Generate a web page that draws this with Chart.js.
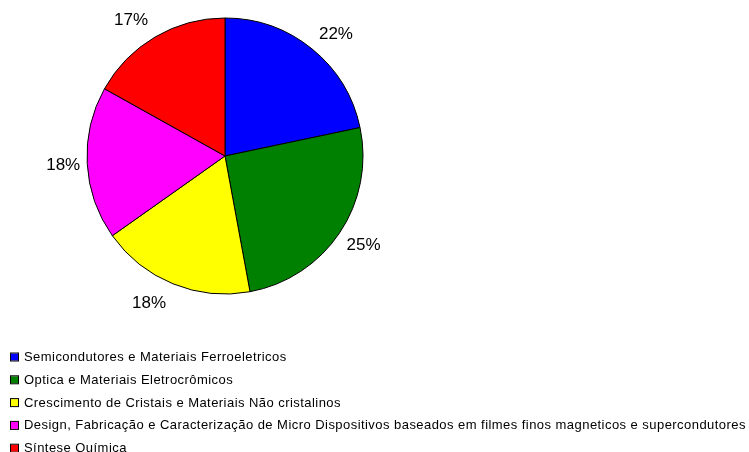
<!DOCTYPE html>
<html>
<head>
<meta charset="utf-8">
<script src="https://cdn.jsdelivr.net/npm/chart.js@4"></script>
<style>
  html, body { margin: 0; padding: 0; background: #fff; }
  #wrap { width: 749px; height: 452px; position: relative; }
</style>
</head>
<body>
<div id="wrap"><canvas id="chart" width="749" height="452"></canvas></div>
<script>
// Data
const categories = [
  'Semicondutores e Materiais Ferroeletricos',
  'Optica e Materiais Eletrocrômicos',
  'Crescimento de Cristais e Materiais Não cristalinos',
  'Design, Fabricação e Caracterização de Micro Dispositivos baseados em filmes finos magneticos e supercondutores',
  'Síntese Química'
];
const shares = [21.7, 25.4, 18.1, 17.9, 16.9];
const pctLabels = ['22%', '25%', '18%', '18%', '17%'];
const colors = ['#0000ff', '#008000', '#ffff00', '#ff00ff', '#ff0000'];

// Percent labels outside each slice, placed off the arc edge like Excel does
const outsideLabels = {
  id: 'outsideLabels',
  afterDatasetsDraw(chart) {
    const ctx = chart.ctx;
    const meta = chart.getDatasetMeta(0);
    ctx.save();
    ctx.font = '17px "Liberation Sans", Arial, sans-serif';
    ctx.fillStyle = '#000';
    ctx.textAlign = 'center';
    ctx.textBaseline = 'middle';
    meta.data.forEach((arc, i) => {
      const mid = (arc.startAngle + arc.endAngle) / 2;
      const ux = Math.cos(mid);
      const uy = Math.sin(mid);
      const ex = arc.x + ux * arc.outerRadius;
      const ey = arc.y + uy * arc.outerRadius;
      ctx.fillText(pctLabels[i], ex + Math.sign(ux) * 24, ey + uy * 20 + 1);
    });
    ctx.restore();
  }
};

// Legend drawn as a column at the bottom left
const columnLegend = {
  id: 'columnLegend',
  afterDraw(chart) {
    const ctx = chart.ctx;
    ctx.save();
    ctx.font = '13px "Liberation Sans", Arial, sans-serif';
    ctx.letterSpacing = '0.45px';
    ctx.textBaseline = 'middle';
    categories.forEach((name, i) => {
      const y = 357 + i * 22.8;
      ctx.fillStyle = colors[i];
      ctx.fillRect(11, y - 3.5, 7, 7);
      ctx.strokeStyle = '#000';
      ctx.lineWidth = 1;
      ctx.strokeRect(10.5, y - 4, 8, 8);
      ctx.fillStyle = '#000';
      ctx.fillText(name, 24, y + 0.5);
    });
    ctx.restore();
  }
};

new Chart(document.getElementById('chart'), {
  type: 'pie',
  data: {
    labels: categories,
    datasets: [{
      data: shares,
      backgroundColor: colors,
      borderColor: '#000',
      borderWidth: 1
    }]
  },
  options: {
    responsive: false,
    animation: false,
    radius: 138,
    layout: { padding: { left: 87, right: 386, top: 18, bottom: 158 } },
    plugins: {
      legend: { display: false },
      tooltip: { enabled: false }
    }
  },
  plugins: [outsideLabels, columnLegend]
});
</script>
</body>
</html>
